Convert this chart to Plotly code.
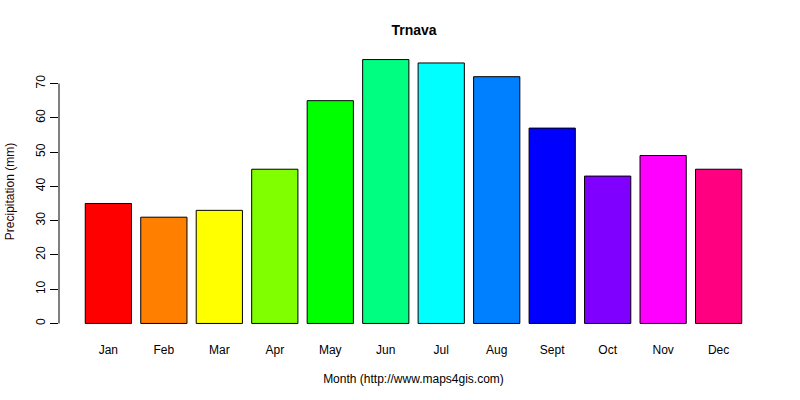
import plotly.graph_objects as go

# monthly precipitation, Trnava
months = ['Jan', 'Feb', 'Mar', 'Apr', 'May', 'Jun',
          'Jul', 'Aug', 'Sept', 'Oct', 'Nov', 'Dec']
precip_mm = [35, 31, 33, 45, 65, 77, 76, 72, 57, 43, 49, 45]
bar_colors = ['#FF0000', '#FF8000', '#FFFF00', '#80FF00', '#00FF00', '#00FF80',
              '#00FFFF', '#0080FF', '#0000FF', '#8000FF', '#FF00FF', '#FF0080']
y_ticks = [0, 10, 20, 30, 40, 50, 60, 70]

font = 'Liberation Sans, Arial, sans-serif'

bars = go.Bar(
    x=months,
    y=precip_mm,
    marker=dict(color=bar_colors, line=dict(color='black', width=1)),
    hoverinfo='x+y',
)

layout = go.Layout(
    width=800,
    height=400,
    paper_bgcolor='white',
    plot_bgcolor='white',
    showlegend=False,
    bargap=0.2 / 1.2,
    margin=dict(l=59, r=32, t=49, b=66),
    font=dict(family=font, size=12, color='black'),
    title=dict(text='<b>Trnava</b>', x=0.5175, xanchor='center',
               y=0.925, yanchor='middle', font=dict(size=14)),
    xaxis=dict(
        range=[-0.89, 11.89],
        automargin=False,
        showline=False,
        showgrid=False,
        zeroline=False,
        ticks='',
        ticklabelstandoff=7,
        title=dict(text='Month (http://www.maps4gis.com)', standoff=18,
                   font=dict(size=12)),
    ),
    yaxis=dict(
        range=[-3.08, 80.08],
        automargin=False,
        tickvals=y_ticks,
        tickangle=-90,
        ticks='outside',
        ticklen=8,
        tickcolor='black',
        showline=False,
        showgrid=False,
        zeroline=False,
        title=dict(text='Precipitation (mm)', standoff=17,
                   font=dict(size=12, color='#2a0000')),
    ),
    shapes=[dict(type='line', xref='paper', yref='y', x0=0, x1=0,
                 y0=y_ticks[0], y1=y_ticks[-1],
                 line=dict(color='black', width=1))],
)

fig = go.Figure(data=[bars], layout=layout)
# drop the page's default body margin so the figure sits at the window corner
fig.write_html('out.html', config={'displayModeBar': False},
               post_script="document.body.style.margin='0';")
